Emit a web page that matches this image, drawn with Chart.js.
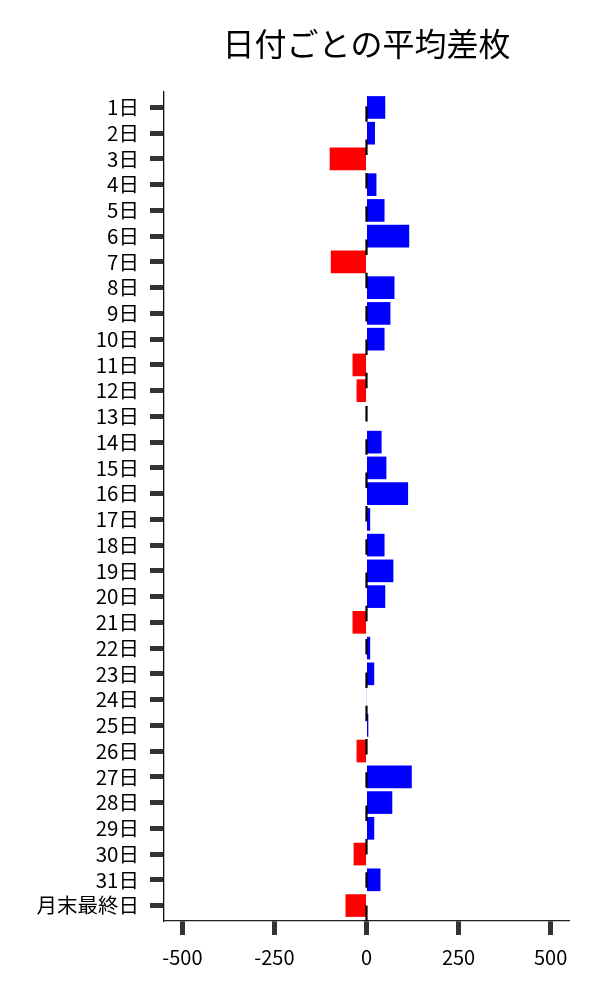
<!DOCTYPE html>
<html>
<head>
<meta charset="utf-8">
<script src="https://cdn.jsdelivr.net/npm/chart.js@4/dist/chart.umd.min.js"></script>
<style>
  html, body { margin: 0; padding: 0; background: #ffffff; }
  #wrap { width: 600px; height: 1000px; position: relative; }
</style>
</head>
<body>
<div id="wrap"><canvas id="c"></canvas></div>
<script>
const categories = ['1日','2日','3日','4日','5日','6日','7日','8日','9日','10日',
  '11日','12日','13日','14日','15日','16日','17日','18日','19日','20日',
  '21日','22日','23日','24日','25日','26日','27日','28日','29日','30日','31日','月末最終日'];
const avgDiff = [51, 23, -100, 27, 49, 116, -97, 76, 65, 49,
  -38, -27, 1.5, 41, 54, 113, 10, 49, 73, 51,
  -38, 10, 21, 1, 5, -27, 123, 70, 21, -35, 38, -57];
const xTickValues = [-500, -250, 0, 250, 500];
const zeroLineX = [0, 0];
const zeroLineSpan = [0, 1];

const FONT = "'Noto Sans CJK JP', 'Noto Sans', sans-serif";

const barData = avgDiff.map((v, i) => ({ x: v, y: i }));
const lineData = zeroLineX.map((v, i) => ({ x: v, y: zeroLineSpan[i] }));

new Chart(document.getElementById('c'), {
  type: 'bar',
  data: {
    datasets: [
      {
        type: 'line',
        data: lineData,
        yAxisID: 'yl',
        xAxisID: 'x',
        borderColor: '#000000',
        borderWidth: 2.2,
        borderDash: [15.5, 17.8],
        pointRadius: 0,
        fill: false,
        tension: 0
      },
      {
        type: 'bar',
        data: barData,
        yAxisID: 'y',
        xAxisID: 'x',
        grouped: false,
        backgroundColor: avgDiff.map(v => v >= 0 ? '#0000ff' : '#ff0000'),
        borderWidth: 0,
        categoryPercentage: 1.0,
        barPercentage: 0.88
      }
    ]
  },
  options: {
    indexAxis: 'y',
    responsive: true,
    maintainAspectRatio: false,
    animation: false,
    layout: { padding: { left: 0, right: 31, top: 0, bottom: 0 } },
    plugins: {
      legend: { display: false },
      tooltip: { enabled: false },
      title: {
        display: true,
        text: '日付ごとの平均差枚',
        fullSize: false,
        color: '#000000',
        font: { family: FONT, size: 32, weight: 'normal', lineHeight: 1.2 },
        padding: { top: 24.3, bottom: 29.3 }
      }
    },
    scales: {
      x: {
        type: 'linear',
        position: 'bottom',
        min: -550,
        max: 550,
        offset: false,
        afterBuildTicks: (axis) => { axis.ticks = xTickValues.map(v => ({ value: v })); },
        afterFit: (axis) => { axis.height = 79; },
        ticks: {
          color: '#000000',
          font: { family: FONT, size: 20 },
          padding: 10,
          maxRotation: 0,
          callback: (v) => String(v)
        },
        grid: {
          display: true,
          offset: false,
          drawOnChartArea: false,
          drawTicks: true,
          tickLength: 14,
          tickWidth: 5,
          tickColor: '#333333'
        },
        border: { display: true, color: '#222222', width: 1.3 }
      },
      y: {
        type: 'linear',
        position: 'left',
        reverse: true,
        offset: false,
        min: -0.6,
        max: categories.length - 1 + 0.6,
        afterBuildTicks: (axis) => { axis.ticks = categories.map((c, i) => ({ value: i })); },
        afterFit: (axis) => { axis.width = 164; },
        ticks: {
          color: '#000000',
          font: { family: FONT, size: 20.5 },
          padding: 11,
          autoSkip: false,
          callback: (v) => categories[v] !== undefined ? categories[v] : ''
        },
        grid: {
          display: true,
          offset: false,
          drawOnChartArea: false,
          drawTicks: true,
          tickLength: 14,
          tickWidth: 5,
          tickColor: '#333333'
        },
        border: { display: true, color: '#111111', width: 1.3 }
      },
      yl: {
        type: 'linear',
        display: false,
        offset: false,
        min: 0,
        max: 1
      }
    }
  }
});
</script>
</body>
</html>
